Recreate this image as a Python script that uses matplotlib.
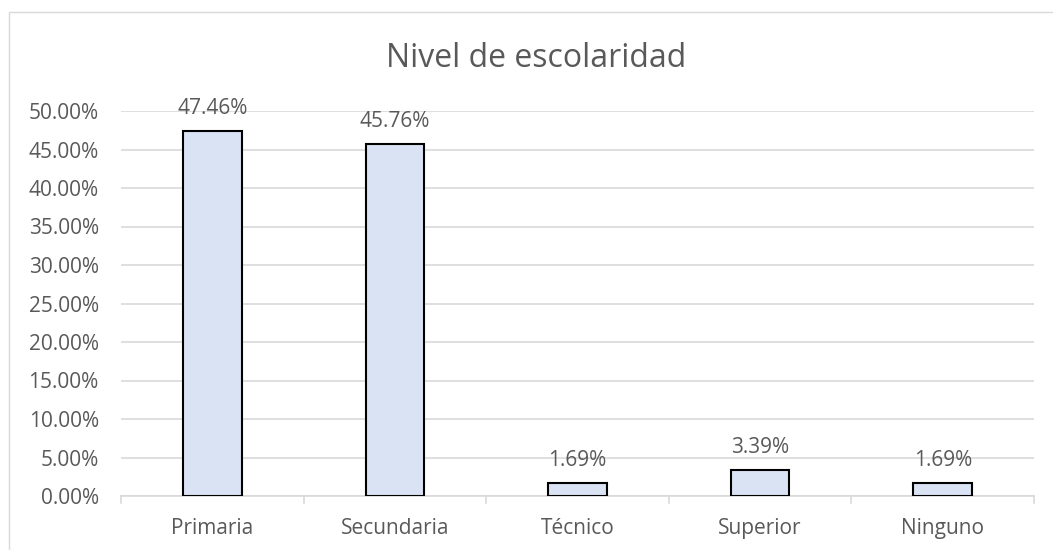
import matplotlib
matplotlib.use("Agg")
import matplotlib.pyplot as plt
from matplotlib.patches import Rectangle

categories = ["Primaria", "Secundaria", "Técnico", "Superior", "Ninguno"]
values = [47.46, 45.76, 1.69, 3.39, 1.69]
labels = ["47.46%", "45.76%", "1.69%", "3.39%", "1.69%"]
yticks = [0, 5, 10, 15, 20, 25, 30, 35, 40, 45, 50]

plt.rcParams['font.family'] = ['Open Sans', 'DejaVu Sans']
txt = '#595959'
fs = 15

W, H = 1053, 550
fig = plt.figure(figsize=(W / 100, H / 100), dpi=100)
fig.patches.append(Rectangle((9 / W, -0.1), 1.2, (H - 12) / H + 0.1, transform=fig.transFigure,
                             fill=False, edgecolor='#d9d9d9', linewidth=1.0))
ax = fig.add_axes([121 / W, (H - 496) / H, (1034 - 121) / W, (496 - 111) / H])

x = list(range(len(categories)))
ax.bar(x, values, width=0.32, color='#dae3f3', edgecolor='black', linewidth=1.5, zorder=3)
for xi, v, lab in zip(x, values, labels):
    ax.annotate(lab, (xi, v), xytext=(0, 17 * 0.72), textcoords='offset points', ha='center',
                va='baseline', fontsize=fs, color=txt, zorder=4)

ax.set_xlim(-0.5, len(categories) - 0.5)
ax.set_ylim(0, 50)
ax.set_yticks(yticks)
ax.set_yticklabels([f"{t:.2f}%" for t in yticks], fontsize=fs, color=txt)
ax.set_xticks(x)
ax.set_xticklabels(categories, fontsize=fs, color=txt)
ax.tick_params(axis='y', length=0, pad=16)
ax.tick_params(axis='x', length=0, pad=16)
for b in [i + 0.5 for i in range(-1, len(categories))]:
    ax.plot([b, b], [0, -0.85], color='#d9d9d9', lw=1.2, clip_on=False, zorder=2)
ax.grid(axis='y', color='#d9d9d9', linewidth=1.2, zorder=0)
for s in ['top', 'right', 'left']:
    ax.spines[s].set_visible(False)
ax.spines['bottom'].set_color('#d9d9d9')
ax.spines['bottom'].set_linewidth(1.2)
ax.set_axisbelow(True)

fig.text(536 / W, (H - 67) / H, "Nivel de escolaridad", ha='center', va='baseline', fontsize=23, color=txt)

fig.savefig("out.png", dpi=100)
